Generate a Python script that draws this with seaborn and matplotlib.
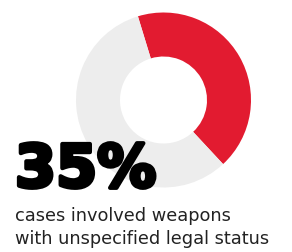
import numpy as np
import matplotlib.pyplot as plt
import matplotlib.patheffects as pe
import seaborn as sns

sns.set_theme(style="white")
plt.rcParams['font.family'] = ['DejaVu Sans']

# donut shares as drawn in the picture (highlighted arc vs rest)
segments = ['unspecified legal status', 'other']
shares = [42.8, 57.2]
seg_colors = ['#E21B30', '#EDEDED']

big_label = '35%'
caption = ['cases involved weapons', 'with unspecified legal status']

fig = plt.figure(figsize=(2.92, 2.52), dpi=100)
ax = fig.add_axes([0, 0, 1, 1])
ax.set_xlim(0, 292)
ax.set_ylim(0, 252)
ax.set_aspect('equal')
ax.axis('off')

ax.pie(shares, colors=seg_colors, center=(163.5, 152), radius=87.5,
       startangle=107, counterclock=False,
       wedgeprops={'width': 44, 'linewidth': 0})
ax.set_xlim(0, 292)
ax.set_ylim(0, 252)

ax.text(15, 65, big_label, fontsize=42.5, fontweight='black', color='black',
        ha='left', va='baseline',
        path_effects=[pe.withStroke(linewidth=3, foreground='black')])

for i, line in enumerate(caption):
    ax.text(15, 31 - i * 23.5, line, fontsize=12.8, color='#222222',
            ha='left', va='baseline')

fig.savefig('out.png', dpi=100)
